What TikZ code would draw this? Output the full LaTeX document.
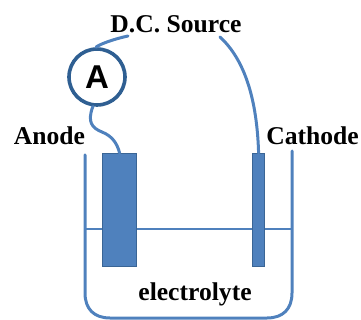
\documentclass[tikz,border=0pt]{standalone}
\usepackage{fontspec}
\setmainfont{Liberation Serif}
\newfontfamily\ammfont{Liberation Sans}
\definecolor{wire}{HTML}{4F81BD}
\definecolor{edge}{HTML}{3A6595}
\definecolor{ring}{HTML}{2F5F92}
\tikzset{
 lbl/.style={font=\fontsize{25.6}{26}\selectfont\bfseries,text=black,inner sep=0pt,anchor=base},
 wireline/.style={draw=wire,line width=3pt,line cap=round},
 plate/.style={draw=edge,fill=wire,line width=1.2pt,inner sep=0pt,anchor=north west,minimum height=113pt},
 meter/.style={circle,draw=ring,fill=white,line width=3.6pt,inner sep=0pt,minimum size=56pt,font=\ammfont\fontsize{33}{33}\selectfont\bfseries}
}
\begin{document}
\begin{tikzpicture}[x=1pt,y=-1pt]
\useasboundingbox (0,0) rectangle (361,320);
\draw[wireline] (85,155) -- (85,293) .. controls (85,309) and (94,318) .. (110,318) -- (267,318) .. controls (283,318) and (292,309) .. (292,293) -- (292,151);
\coordinate (wl) at (85,229);
\coordinate (wr) at (292,229);
\draw[draw=wire,line width=2.4pt] (wl) -- (wr);
\node[plate,minimum width=34pt] (anodeplate) at (102,153) {};
\node[plate,minimum width=12pt] (cathodeplate) at (252,153) {};
\node[meter] (amm) at (97,77) {A};
\node[lbl] (src) at (176,33) {D.C. Source};
\node[lbl] (anode) at (49.5,145) {Anode};
\node[lbl] (cathode) at (312.5,145) {Cathode};
\node[lbl] (elec) at (195,300) {electrolyte};
\coordinate (s1) at (128,36);
\coordinate (s2) at (220,37);
\draw[wireline] (amm.92) .. controls (100,44) and (114,39) .. (s1);
\draw[wireline] (s2) .. controls (245,60) and (257,100) .. (cathodeplate.north);
\draw[wireline] (amm.262) .. controls (87,122) and (92,128) .. (102,132) .. controls (112,136) and (117,143) .. (anodeplate.north);
\end{tikzpicture}
\end{document}
